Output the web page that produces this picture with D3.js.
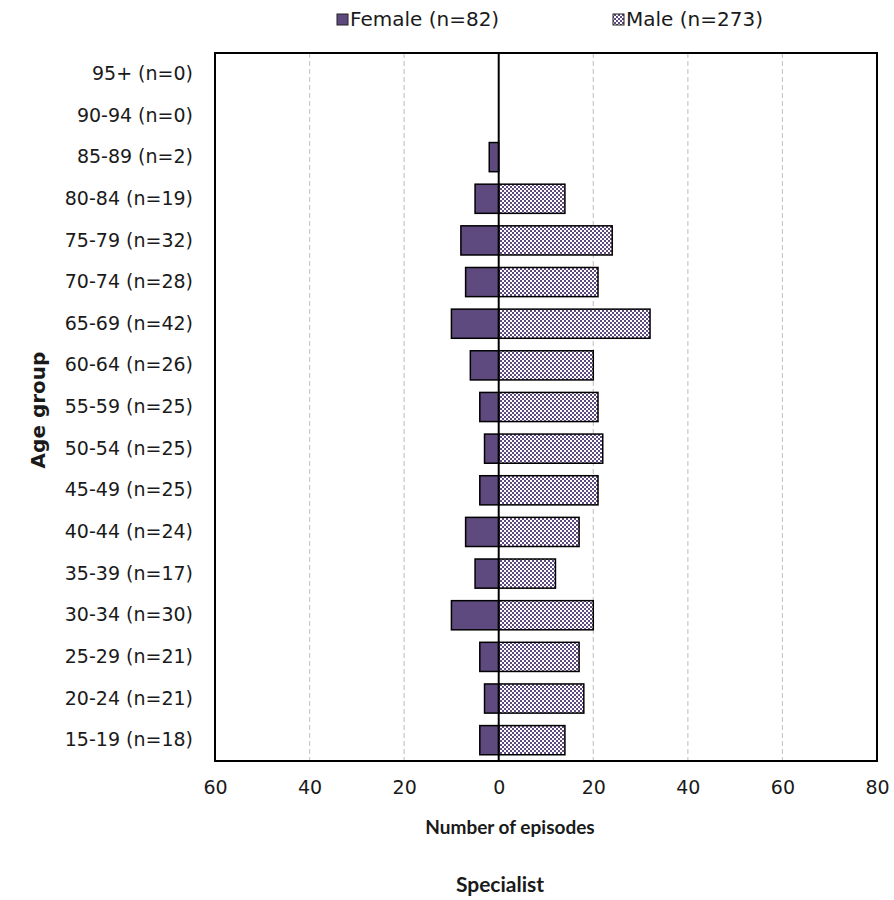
<!DOCTYPE html>
<html><head><meta charset="utf-8">
<script src="https://cdn.jsdelivr.net/npm/d3@7"></script>
<style>body{margin:0;background:#fff;} svg{font-family:"DejaVu Sans", sans-serif;}</style>
</head><body><svg id="c" width="894" height="900"></svg>
<script>
const categories = ["95+ (n=0)","90-94 (n=0)","85-89 (n=2)","80-84 (n=19)","75-79 (n=32)","70-74 (n=28)","65-69 (n=42)","60-64 (n=26)","55-59 (n=25)","50-54 (n=25)","45-49 (n=25)","40-44 (n=24)","35-39 (n=17)","30-34 (n=30)","25-29 (n=21)","20-24 (n=21)","15-19 (n=18)"];
const female = [0,0,2,5,8,7,10,6,4,3,4,7,5,10,4,3,4];
const male = [0,0,0,14,24,21,32,20,21,22,21,17,12,20,17,18,14];
const xTicks = [-60,-40,-20,0,20,40,60,80];
const seriesNames = ["Female (n=82)","Male (n=273)"];

const svg = d3.select("#c");
const purple = "#5e4a7f";
const txt = "#1a1a1a";
const defs = svg.append("defs");
const pat = defs.append("pattern").attr("id","checker").attr("width",4).attr("height",4).attr("patternUnits","userSpaceOnUse");
pat.append("rect").attr("width",4).attr("height",4).attr("fill","#fff");
pat.append("rect").attr("x",0).attr("y",0).attr("width",2).attr("height",2).attr("fill",purple);
pat.append("rect").attr("x",2).attr("y",2).attr("width",2).attr("height",2).attr("fill",purple);

const L=215,R=877,T=53,B=761;
const x = d3.scaleLinear().domain([-60,80]).range([L,R]);
const y = d3.scaleBand().domain(categories).range([T,B]).paddingInner(0.3).paddingOuter(0.15);

// grid
svg.append("g").selectAll("line").data(xTicks.filter(d=>d!==0 && d!==-60 && d!==80)).join("line")
  .attr("x1",d=>x(d)).attr("x2",d=>x(d)).attr("y1",T).attr("y2",B)
  .attr("stroke","#c8c8c8").attr("stroke-width",1.2).attr("stroke-dasharray","5,3");

// frame
svg.append("rect").attr("x",L).attr("y",T).attr("width",R-L).attr("height",B-T)
  .attr("fill","none").attr("stroke","#000").attr("stroke-width",2);

// bars
svg.append("g").selectAll("rect").data(categories.map((c,i)=>({c,v:female[i]})).filter(d=>d.v>0)).join("rect")
  .attr("x",d=>x(-d.v)).attr("y",d=>y(d.c)).attr("width",d=>x(0)-x(-d.v)).attr("height",y.bandwidth())
  .attr("fill",purple).attr("stroke","#000").attr("stroke-width",1.5);
svg.append("g").selectAll("rect").data(categories.map((c,i)=>({c,v:male[i]})).filter(d=>d.v>0)).join("rect")
  .attr("x",x(0)).attr("y",d=>y(d.c)).attr("width",d=>x(d.v)-x(0)).attr("height",y.bandwidth())
  .attr("fill","url(#checker)").attr("stroke","#000").attr("stroke-width",1.5);

// zero line
svg.append("line").attr("x1",x(0)).attr("x2",x(0)).attr("y1",T).attr("y2",B).attr("stroke","#000").attr("stroke-width",2);

// x axis labels
const xa = svg.append("g").attr("transform",`translate(0,${B})`).call(d3.axisBottom(x).tickValues(xTicks).tickFormat(d=>Math.abs(d)).tickSize(0).tickPadding(20));
xa.select(".domain").remove();
xa.selectAll("text").attr("font-size",19).attr("fill",txt).style("font-family","'DejaVu Sans', sans-serif");

// y axis labels
const ya = svg.append("g").attr("transform",`translate(${L},0)`).call(d3.axisLeft(y).tickSize(0).tickPadding(22));
ya.select(".domain").remove();
ya.selectAll("text").attr("font-size",19).attr("fill",txt).style("font-family","'DejaVu Sans', sans-serif");

// titles
svg.append("text").attr("x",510).attr("y",834).attr("text-anchor","middle").attr("font-size",19).attr("font-weight","bold").attr("fill",txt).style("font-family","Lato, sans-serif").text("Number of episodes");
svg.append("text").attr("x",500).attr("y",892).attr("text-anchor","middle").attr("font-size",21).attr("font-weight","bold").attr("fill",txt).style("font-family","Lato, sans-serif").text("Specialist");
svg.append("text").attr("transform","translate(45,410) rotate(-90)").attr("text-anchor","middle").attr("font-size",20).attr("font-weight","bold").attr("fill",txt).style("font-family","'DejaVu Sans', sans-serif").text("Age group");

// legend
const leg = svg.append("g");
const legItems = [{name:seriesNames[0],fill:purple,x:337},{name:seriesNames[1],fill:"url(#checker)",x:613}];
legItems.forEach(d=>{
  leg.append("rect").attr("x",d.x).attr("y",14).attr("width",11).attr("height",11).attr("fill",d.fill).attr("stroke","#222").attr("stroke-width",1);
  leg.append("text").attr("x",d.x+13).attr("y",25.5).attr("font-size",20).attr("fill",txt).text(d.name);
});
</script></body></html>
